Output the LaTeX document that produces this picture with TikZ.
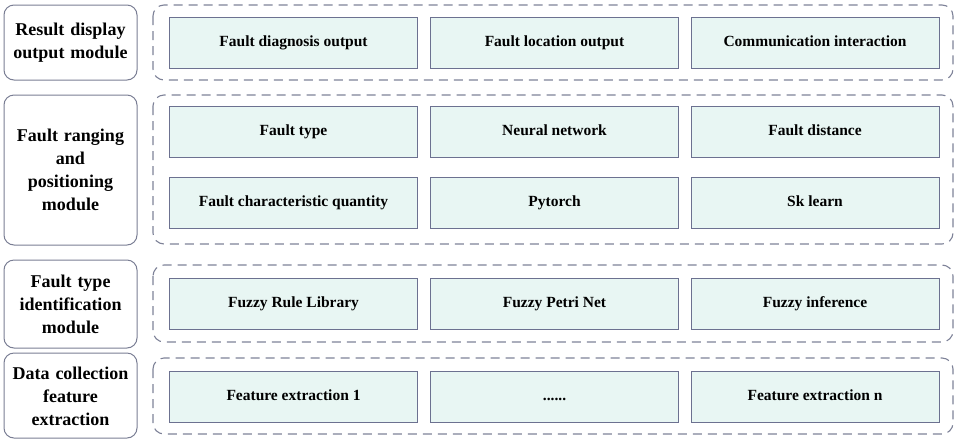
\documentclass[tikz,border=0pt]{standalone}
\usepackage{fontspec}
\setmainfont{Liberation Serif}
\definecolor{modline}{HTML}{7A7E94}
\definecolor{groupline}{HTML}{7E8298}
\definecolor{itemline}{HTML}{6C7190}
\definecolor{itemfill}{HTML}{E8F6F3}
\begin{document}
\begin{tikzpicture}[x=1pt,y=-1pt,
  modbox/.style={draw=modline, line width=1pt, rounded corners=10pt, fill=white},
  groupbox/.style={draw=groupline, line width=1.1pt, dash pattern=on 9pt off 6pt, rounded corners=11pt},
  itembox/.style={draw=itemline, line width=1pt, fill=itemfill, minimum height=51pt, minimum width=248pt, inner sep=0pt,
    font=\fontsize{15.5}{18}\selectfont\bfseries, text height=10.5pt, text depth=3pt},
  modtext/.style={font=\fontsize{18}{23}\selectfont\bfseries, align=center, text width=130pt}]
\useasboundingbox (0,0) rectangle (955,440);

% left column: module names
\draw[modbox] (4,5) rectangle (137,80);
\node[modtext] (m1) at (70.5,42.5) {Result display\\output module};
\draw[modbox] (4,95) rectangle (137,245);
\node[modtext] (m2) at (70.5,170) {Fault ranging\\and\\positioning\\module};
\draw[modbox] (4,260) rectangle (137,348);
\node[modtext] (m3) at (70.5,304) {Fault type\\identification\\module};
\draw[modbox] (4,353) rectangle (137,438);
\node[modtext] (m4) at (70.5,396) {Data collection\\feature\\extraction};

% dashed group frames
\draw[groupbox] (153,5) rectangle (953,80);
\draw[groupbox] (153,95) rectangle (953,244);
\draw[groupbox] (153,265) rectangle (953,342);
\draw[groupbox] (153,358) rectangle (953,434);

% items
\node[itembox] (a1) at (293.5,42.5) {Fault diagnosis output};
\node[itembox] (a2) at (554.5,42.5) {Fault location output};
\node[itembox] (a3) at (815,42.5) {Communication interaction};

\node[itembox] (b1) at (293.5,131.5) {Fault type};
\node[itembox] (b2) at (554.5,131.5) {Neural network};
\node[itembox] (b3) at (815,131.5) {Fault distance};
\node[itembox] (b4) at (293.5,202.5) {Fault characteristic quantity};
\node[itembox] (b5) at (554.5,202.5) {Pytorch};
\node[itembox] (b6) at (815,202.5) {Sk learn};

\node[itembox] (c1) at (293.5,304) {Fuzzy Rule Library};
\node[itembox] (c2) at (554.5,304) {Fuzzy Petri Net};
\node[itembox] (c3) at (815,304) {Fuzzy inference};

\node[itembox] (d1) at (293.5,397) {Feature extraction 1};
\node[itembox] (d2) at (554.5,397) {......};
\node[itembox] (d3) at (815,397) {Feature extraction n};
\end{tikzpicture}
\end{document}
